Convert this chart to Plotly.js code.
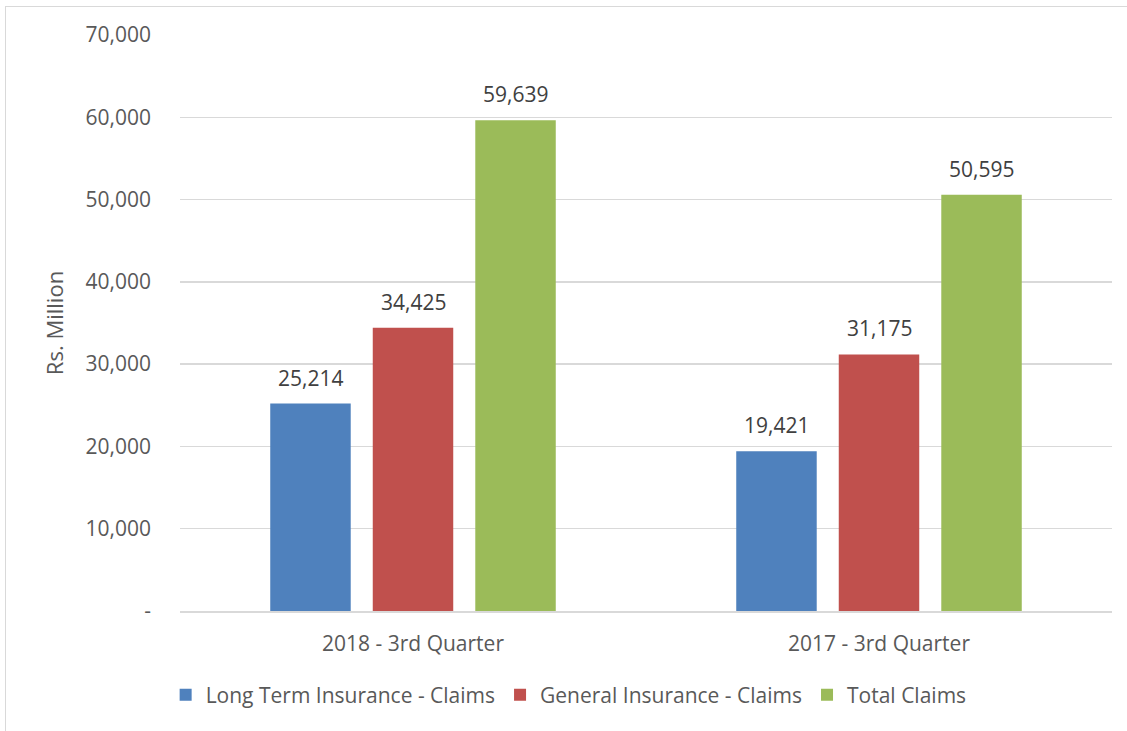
<!DOCTYPE html>
<html>
<head>
<meta charset="utf-8">
<script src="https://cdn.plot.ly/plotly-3.0.1.min.js"></script>
<style>
html,body{margin:0;padding:0;background:#fff;}
#frame{position:absolute;left:5px;top:6px;width:1130px;height:730px;border:1px solid #d9d9d9;box-sizing:border-box;}
#chart{position:absolute;left:0;top:0;width:1127px;height:731px;}
</style>
</head>
<body>
<div id="frame"></div>
<div id="chart"></div>
<script>
const categories = ["2018 - 3rd Quarter", "2017 - 3rd Quarter"];
const seriesNames = ["Long Term Insurance - Claims", "General Insurance - Claims", "Total Claims"];
const longTerm = [25214, 19421];
const general = [34425, 31175];
const total = [59639, 50595];
const yTickVals = [0, 10000, 20000, 30000, 40000, 50000, 60000, 70000];
const yTickText = ["-", "10,000", "20,000", "30,000", "40,000", "50,000", "60,000", "70,000"];

const colors = ["#4F81BD", "#C0504D", "#9BBB59"];
const font = "'Open Sans', 'DejaVu Sans', sans-serif";
const seriesValues = [longTerm, general, total];

const W = 1127, H = 731;
const margin = {l: 180, r: 15, t: 35, b: 120};
const bargap = 0.34, bargroupgap = 0.215;

const traces = seriesValues.map((vals, i) => ({
  type: "bar",
  name: seriesNames[i],
  x: categories,
  y: vals,
  marker: {color: colors[i]},
  hoverinfo: "skip"
}));

// data labels above bars, offset to each bar's slot in the group
const plotW = W - margin.l - margin.r;
const slot = (plotW / categories.length) * (1 - bargap) / seriesValues.length;
const fmt = v => v.toLocaleString("en-US");
const annotations = [];
seriesValues.forEach((vals, i) => {
  vals.forEach((v, j) => {
    annotations.push({
      x: categories[j], y: v, xref: "x", yref: "y",
      text: fmt(v), showarrow: false,
      xshift: (i - (seriesValues.length - 1) / 2) * slot,
      yanchor: "bottom", yshift: 10,
      font: {family: font, size: 21, color: "#404040"}
    });
  });
});

const layout = {
  width: W,
  height: H,
  margin: margin,
  paper_bgcolor: "rgba(0,0,0,0)",
  plot_bgcolor: "rgba(0,0,0,0)",
  barmode: "group",
  bargap: bargap,
  bargroupgap: bargroupgap,
  font: {family: font, size: 21, color: "#595959"},
  annotations: annotations,
  xaxis: {
    type: "category",
    showgrid: false,
    showline: true,
    linecolor: "#d9d9d9",
    linewidth: 1.5,
    ticks: "",
    tickfont: {family: font, size: 21, color: "#595959"},
    ticklabelstandoff: 13
  },
  yaxis: {
    range: [0, 70000],
    tickvals: yTickVals,
    ticktext: yTickText,
    showgrid: true,
    gridcolor: "#d9d9d9",
    gridwidth: 1.5,
    zeroline: false,
    showline: false,
    ticks: "",
    ticklabelstandoff: 28,
    tickfont: {family: font, size: 21, color: "#595959"},
    title: {text: "Rs. Million", font: {family: font, size: 22, color: "#595959"}, standoff: 15}
  },
  legend: {
    orientation: "h",
    x: 0.417,
    xanchor: "center",
    y: -0.146,
    yanchor: "middle",
    font: {family: font, size: 21, color: "#595959"},
    itemwidth: 30,
    traceorder: "normal"
  },
  showlegend: true
};

Plotly.newPlot("chart", traces, layout, {displayModeBar: false, staticPlot: true});
</script>
</body>
</html>
